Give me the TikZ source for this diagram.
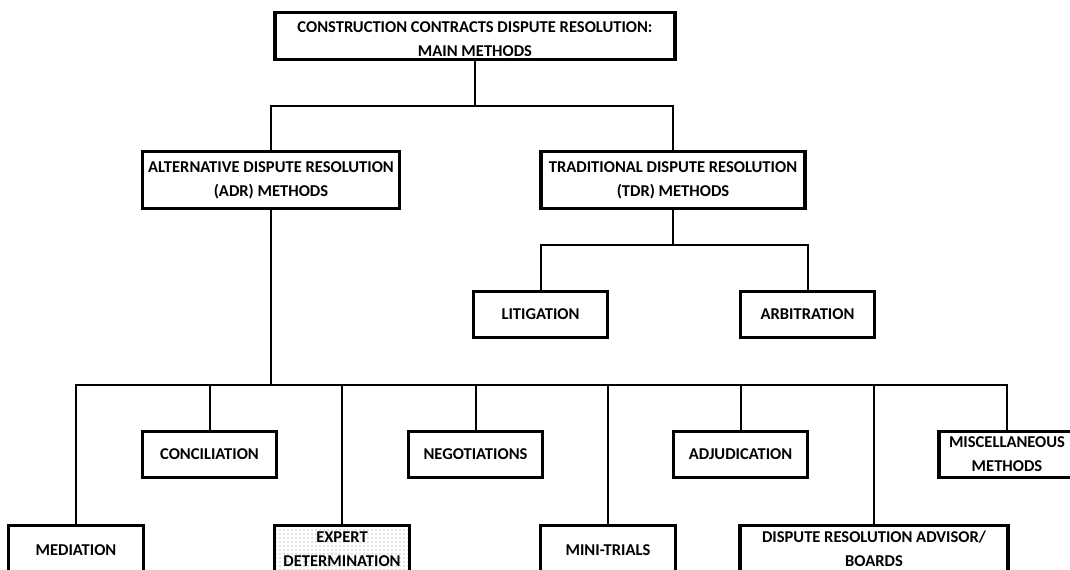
\documentclass[tikz,border=0pt]{standalone}
\usepackage{fontspec}
\setmainfont{Carlito}
\usetikzlibrary{patterns}

\tikzset{
  lbl/.style={font=\bfseries\fontsize{12.4}{18}\selectfont,align=center,inner sep=0pt},
  box/.style={lbl,draw,line width=2.4pt},
  small/.style={box,minimum width=101pt,minimum height=35pt},
  conn/.style={line width=1.5pt}
}

\begin{document}
\begin{tikzpicture}[x=0.75pt,y=-0.75pt]
       \useasboundingbox (0,0) rectangle (1070,570);
       \clip (0,0) rectangle (1070,570);

       % top level
       \node[box,minimum width=300pt,minimum height=35pt] (top) at (475,36) {};
       \node[lbl] at (475,39) {CONSTRUCTION CONTRACTS DISPUTE RESOLUTION:\\MAIN METHODS};
       \node[box,minimum width=193pt,minimum height=43pt] (adr) at (271,180)
            {ALTERNATIVE DISPUTE RESOLUTION\\(ADR) METHODS};
       \node[box,minimum width=198pt,minimum height=43pt] (tdr) at (673,180)
            {TRADITIONAL DISPUTE RESOLUTION\\(TDR) METHODS};

       % traditional methods
       \node[small] (lit) at (540.5,314.5) {LITIGATION};
       \node[small] (arb) at (807.5,314.5) {ARBITRATION};

       % alternative methods, upper row
       \node[small] (con) at (209.5,454.5) {CONCILIATION};
       \node[small] (neg) at (475.5,454.5) {NEGOTIATIONS};
       \node[small] (adj) at (740.5,454.5) {ADJUDICATION};
       \node[small,minimum width=102pt] (misc) at (1007,454.5) {MISCELLANEOUS\\METHODS};

       % alternative methods, lower row (runs off the page)
       \node[small,minimum height=40pt] (med) at (76,552) {};
       \node[lbl] at (76,550) {MEDIATION};
       \node[small,minimum height=40pt,pattern=dots,pattern color=gray] (exp) at (342,552) {};
       \node[lbl] at (342,549) {EXPERT\\DETERMINATION};
       \node[small,minimum height=40pt] (mini) at (608,552) {};
       \node[lbl] at (608,550) {MINI-TRIALS};
       \node[small,minimum width=201pt,minimum height=40pt] (drab) at (874,552) {};
       \node[lbl] at (874,549) {DISPUTE RESOLUTION ADVISOR/\\BOARDS};

       % connectors
       \coordinate (bus1) at (0,106);
       \coordinate (bus2) at (0,245);
       \coordinate (bus3) at (0,385);
       \draw[conn] (top.south) -- (top.south |- bus1);
       \draw[conn] (adr.north) -- (adr.north |- bus1) -- (tdr.north |- bus1) -- (tdr.north);
       \draw[conn] (tdr.south) -- (tdr.south |- bus2);
       \draw[conn] (lit.north) -- (lit.north |- bus2) -- (arb.north |- bus2) -- (arb.north);
       \draw[conn] (adr.south) -- (adr.south |- bus3);
       \draw[conn] (med.north) -- (med.north |- bus3) -- (misc.north |- bus3) -- (misc.north);
       \foreach \n in {con,exp,neg,mini,adj,drab}
         \draw[conn] (\n.north) -- (\n.north |- bus3);
\end{tikzpicture}
\end{document}
